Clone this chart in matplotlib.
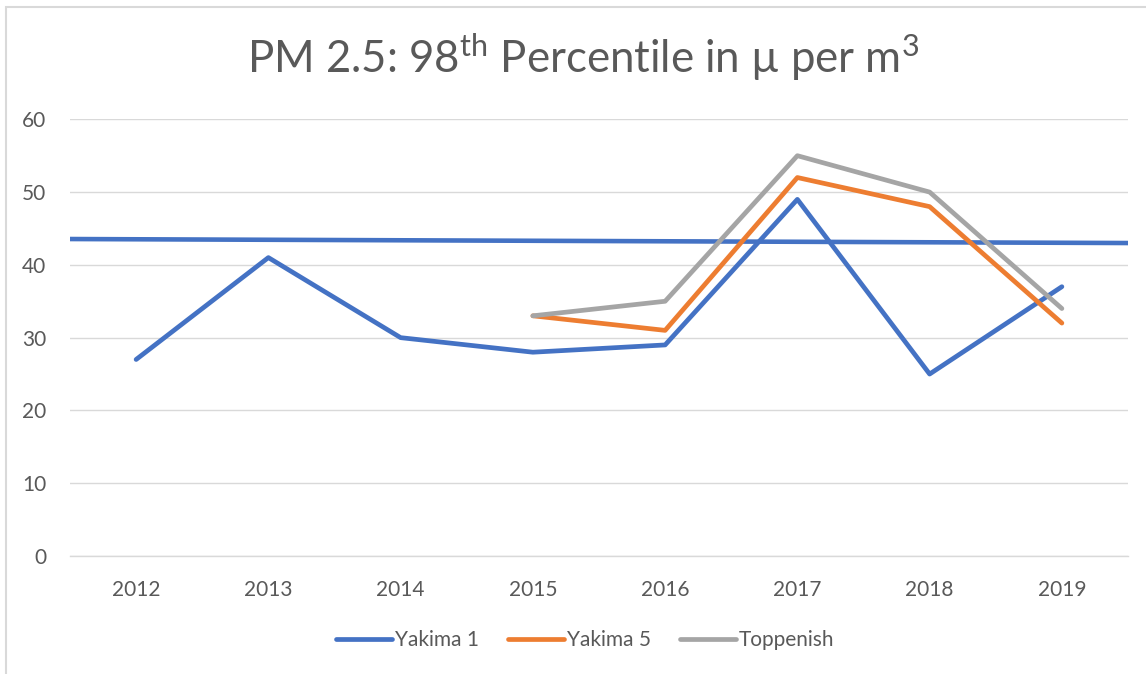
import matplotlib
matplotlib.use("Agg")
import matplotlib.pyplot as plt
from matplotlib.patches import Rectangle
import numpy as np

years = ["2012", "2013", "2014", "2015", "2016", "2017", "2018", "2019"]
yakima1 = [27, 41, 30, 28, 29, 49, 25, 37]
yakima5 = [np.nan, np.nan, np.nan, 33, 31, 52, 48, 32]
toppenish = [np.nan, np.nan, np.nan, 33, 35, 55, 50, 34]
# blue reference line spanning the full plot width (value at left edge, right edge)
ref_line = [43.55, 43.0]

plt.rcParams['font.family'] = ['Lato', 'DejaVu Sans']
plt.rcParams['mathtext.fontset'] = 'custom'
plt.rcParams['mathtext.rm'] = 'Lato'
plt.rcParams['mathtext.it'] = 'Lato'

W, H = 1146, 674
fig = plt.figure(figsize=(W / 100, H / 100), dpi=100)
ax = fig.add_axes([70 / W, (H - 556) / H, 1058 / W, (556 - 119.3) / H])

text_col = '#595959'
grid_col = '#d9d9d9'
x = np.arange(len(years))

ax.plot([-0.5, len(years) - 0.5], ref_line, color='#4472C4', lw=3.3,
        solid_capstyle='butt', zorder=3)
l1, = ax.plot(x, yakima1, color='#4472C4', lw=3.4, solid_capstyle='round',
              solid_joinstyle='round', label='Yakima 1', zorder=4)
l2, = ax.plot(x, yakima5, color='#ED7D31', lw=3.4, solid_capstyle='round',
              solid_joinstyle='round', label='Yakima 5', zorder=4)
l3, = ax.plot(x, toppenish, color='#A5A5A5', lw=3.4, solid_capstyle='round',
              solid_joinstyle='round', label='Toppenish', zorder=4)

ax.set_xlim(-0.5, len(years) - 0.5)
ax.set_ylim(0, 60)
ax.set_yticks(range(0, 61, 10))
ax.set_xticks(x)
ax.set_xticklabels(years)
ax.grid(axis='y', color=grid_col, lw=1.0, zorder=0)
for s in ['top', 'right', 'left']:
    ax.spines[s].set_visible(False)
ax.spines['bottom'].set_color(grid_col)
ax.spines['bottom'].set_linewidth(1.0)
ax.tick_params(axis='both', length=0, colors=text_col, labelsize=15)
ax.tick_params(axis='y', pad=17)
ax.tick_params(axis='x', pad=17)

fig.text(583 / W, 1 - 73 / H, r'PM 2.5: 98$^{\mathrm{th}}$ Percentile in µ per m$^{\mathrm{3}}$',
         ha='center', va='baseline', fontsize=31.5, color=text_col)

leg = fig.legend(handles=[l1, l2, l3], loc='center', bbox_to_anchor=(585 / W, 1 - 640 / H),
                 ncol=3, frameon=False, fontsize=15, handlelength=2.7, handletextpad=0.12,
                 columnspacing=1.4)
for t in leg.get_texts():
    t.set_color(text_col)

fig.patches.append(Rectangle((6 / W, -0.1), 1.2, 1 - 7 / H + 0.1, transform=fig.transFigure,
                             fill=False, edgecolor=grid_col, lw=1.5))

fig.savefig('out.png', dpi=100)
